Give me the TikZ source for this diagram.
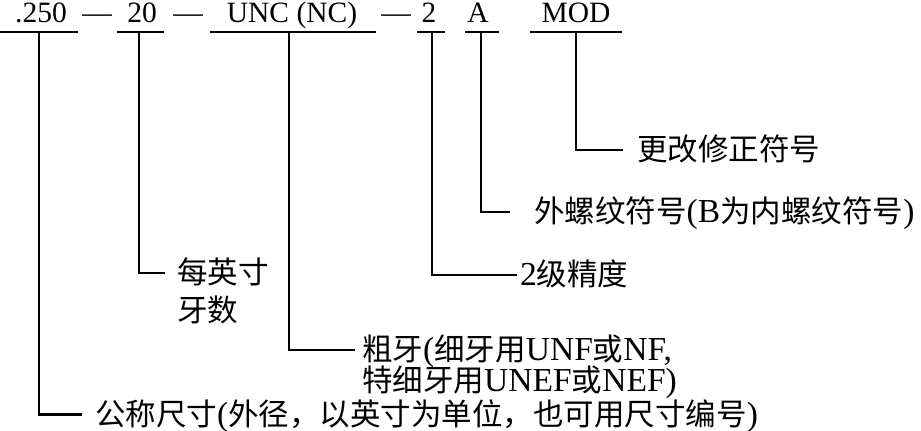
\documentclass[tikz,border=0pt]{standalone}
\usepackage{fontspec}
\setmainfont{Liberation Serif}
\newfontfamily\lat[Scale=1.1]{Liberation Serif}
\newfontfamily\cjk{Noto Sans CJK SC}
\newcommand{\zh}[1]{{\cjk #1}}
\begin{document}
\begin{tikzpicture}[x=1pt,y=-1pt,
  top/.style={inner sep=0pt,anchor=base,font=\fontsize{29.5}{34}\selectfont},
  lab/.style={inner sep=0pt,anchor=west,text height=25pt,text depth=4pt,
    font=\lat\fontsize{30.5}{34}\selectfont},
  ln/.style={line width=2.2pt},
  leader/.style={line width=2.2pt}]
\useasboundingbox (0,0) rectangle (921,431);
% top row
\node[top] (t1) at (41,22.5) {.250};
\node[top] (d1) at (97,22.5) {—};
\node[top] (t2) at (142,22.5) {20};
\node[top] (d2) at (188,22.5) {—};
\node[top] (t3) at (292,22.5) {UNC (NC)};
\node[top] (d3) at (396,22.5) {—};
\node[top] (t4) at (429,22.5) {2};
\node[top] (t5) at (478,22.5) {A};
\node[top] (t6) at (576,22.5) {MOD};
% underlines
\coordinate (a1) at (0,32);   \coordinate (b1) at (78,32);  \coordinate (u1) at (39,32);
\coordinate (a2) at (117,32); \coordinate (b2) at (164,32); \coordinate (u2) at (139,32);
\coordinate (a3) at (210,32); \coordinate (b3) at (376,32); \coordinate (u3) at (289,32);
\coordinate (a4) at (417,32); \coordinate (b4) at (445,32); \coordinate (u4) at (432,32);
\coordinate (a5) at (465,32); \coordinate (b5) at (499,32); \coordinate (u5) at (481,32);
\coordinate (a6) at (530,32); \coordinate (b6) at (622,32); \coordinate (u6) at (576,32);
\foreach \i in {1,...,6} {\draw[ln] (a\i) -- (b\i);}
% labels
\node[lab] (l6) at (637,150) {\zh{更改修正符号}};
\node[lab] (l5) at (534,212) {\zh{外螺纹符号}(B\zh{为内螺纹符号})};
\node[lab] (l4) at (520,275) {2\zh{级精度}};
\node[lab] (l2) at (177,273) {\zh{每英寸}};
\node[lab] (l2b) at (177,311) {\zh{牙数}};
\node[lab] (l3) at (362,350) {\zh{粗牙}(\zh{细牙用}UNF\zh{或}NF,};
\node[lab] (l3b) at (362,381) {\zh{特细牙用}UNEF\zh{或}NEF)};
\node[lab] (l1) at (95,414.5) {\zh{公称尺寸}(\zh{外径，以英寸为单位，也可用尺寸编号})};
% leaders
\draw[leader] (u6) |- ([xshift=-14pt]l6.west);
\draw[leader] (u5) |- ([xshift=-24pt]l5.west);
\draw[leader] (u4) |- ([xshift=-3pt]l4.west);
\draw[leader] (u2) |- ([xshift=-12pt]l2.west);
\draw[leader] (u3) |- ([xshift=-7pt]l3.west);
\draw[leader] (u1) |- ([xshift=-13pt]l1.west);
\end{tikzpicture}
\end{document}
